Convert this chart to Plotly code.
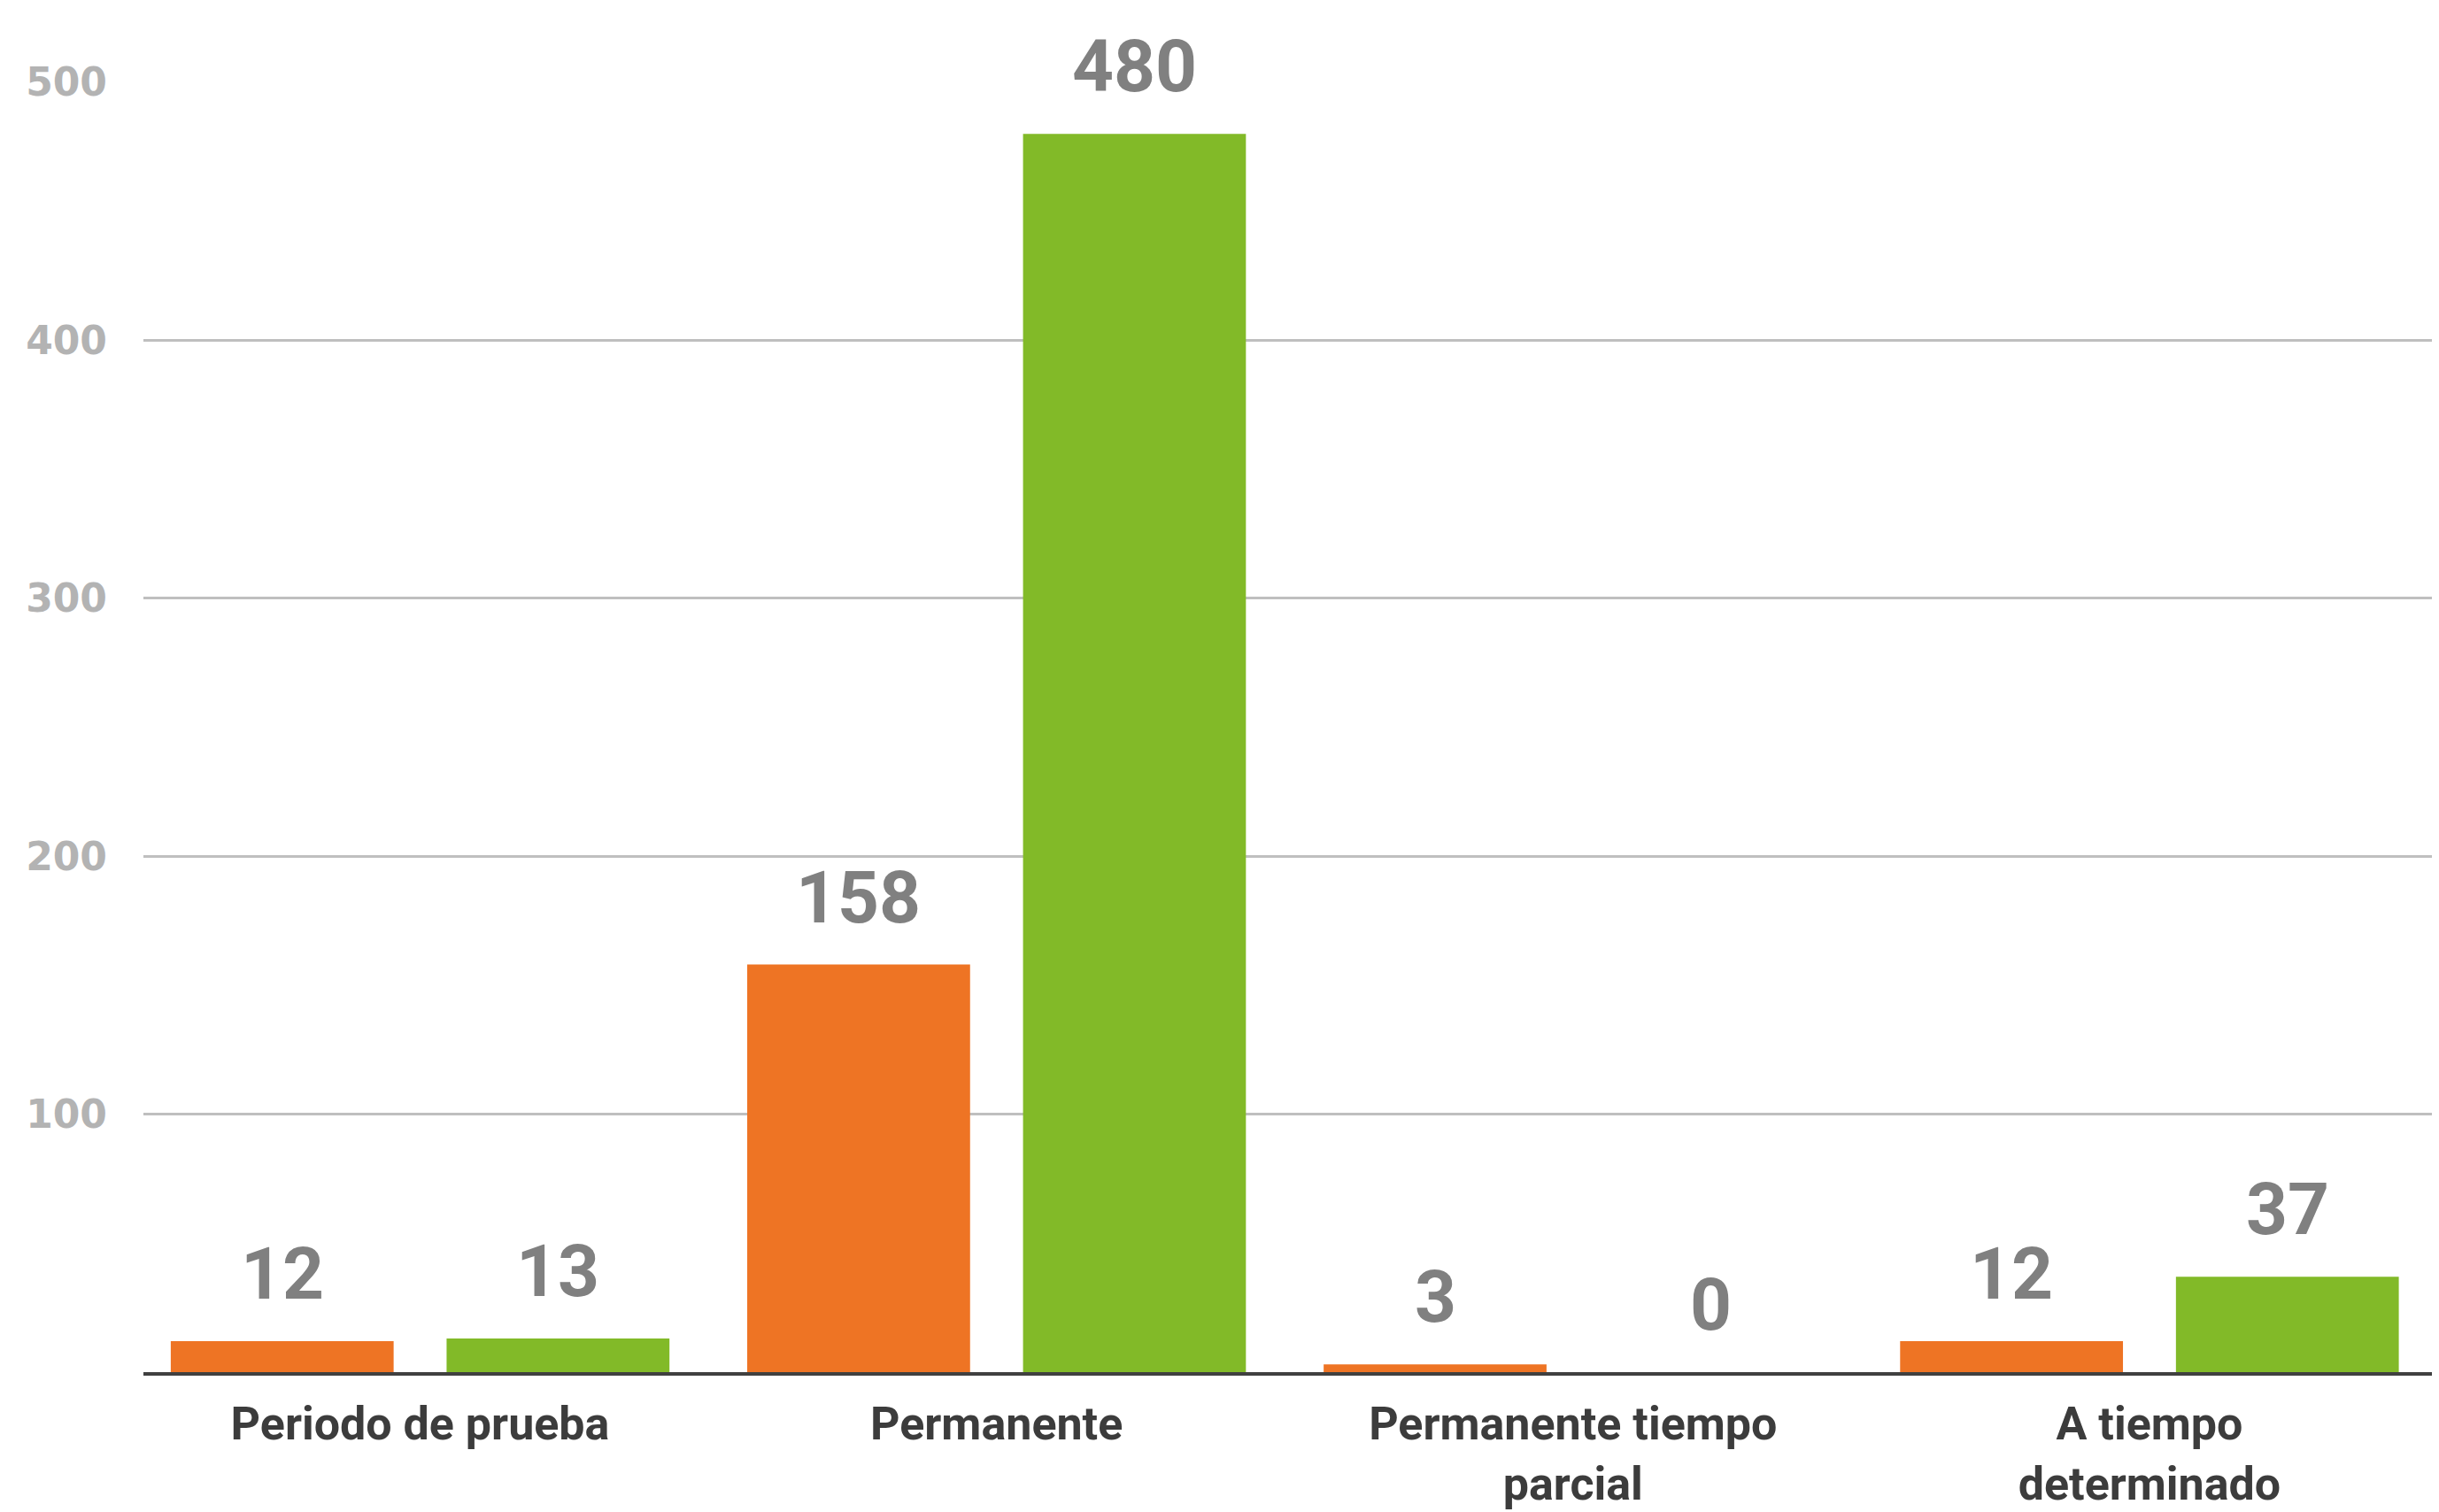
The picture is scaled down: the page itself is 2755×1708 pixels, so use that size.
import plotly.graph_objects as go

categories = ["Periodo de prueba", "Permanente", "Permanente tiempo<br>parcial", "A tiempo<br>determinado"]
serie_a = [12, 158, 3, 12]
serie_b = [13, 480, 0, 37]
y_ticks = [100, 200, 300, 400, 500]

ORANGE = "#EE7424"
GREEN = "#82BA28"

W, H = 2747, 1700
ML, MR, MT, MB = 154, 8, 85, 158
BARGAP = 0.043
BARGROUPGAP = 0.192
X_RANGE = [-0.48, 3.49]

fig = go.Figure()
fig.add_trace(go.Bar(x=categories, y=serie_a, marker_color=ORANGE, marker_line_width=0, name="A"))
fig.add_trace(go.Bar(x=categories, y=serie_b, marker_color=GREEN, marker_line_width=0, name="B"))

pw = W - ML - MR
catw = pw / (X_RANGE[1] - X_RANGE[0])
slot = catw * (1 - BARGAP) / 2
label_font = dict(family="Roboto", size=82, color="#808080", weight="bold")
for vals, sign in ((serie_a, -1), (serie_b, 1)):
    for c, v in zip(categories, vals):
        fig.add_annotation(x=c, y=v, xref="x", yref="y", text=str(v),
                           showarrow=False, yanchor="bottom", xanchor="center",
                           xshift=sign * slot / 2, yshift=26, font=label_font)

fig.update_layout(
    width=W, height=H,
    margin=dict(l=ML, r=MR, t=MT, b=MB, autoexpand=False),
    paper_bgcolor="white", plot_bgcolor="white",
    barmode="group", bargap=BARGAP, bargroupgap=BARGROUPGAP,
    showlegend=False,
    font=dict(family="Roboto"),
)
fig.update_xaxes(
    range=X_RANGE,
    showgrid=False, showline=True, linecolor="#404040", linewidth=4,
    tickfont=dict(family="Roboto", size=52, color="#3c3c3c", weight="bold"),
    ticks="", ticklabelstandoff=10, automargin=False,
)
fig.update_yaxes(
    range=[0, 500], tickvals=y_ticks,
    showgrid=True, gridcolor="#bfbfbf", gridwidth=3, zeroline=False, showline=False,
    tickfont=dict(family="DejaVu Sans", size=44, color="#b3b3b3", weight="bold"),
    ticks="", ticklabelstandoff=40, automargin=False,
)

fig.write_html("out.html")
